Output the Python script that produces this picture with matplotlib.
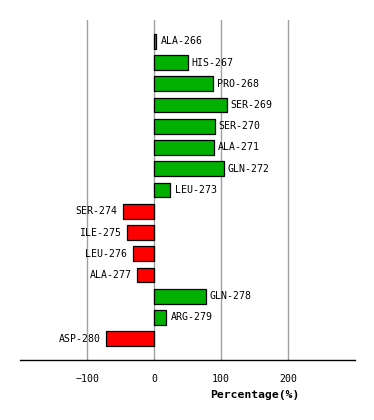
import matplotlib
matplotlib.use('Agg')
from matplotlib import pyplot as plt
import matplotlib.transforms as mtransforms

# residues and their percentage values
residues = ['ALA-266', 'HIS-267', 'PRO-268', 'SER-269', 'SER-270', 'ALA-271',
            'GLN-272', 'LEU-273', 'SER-274', 'ILE-275', 'LEU-276', 'ALA-277',
            'GLN-278', 'ARG-279', 'ASP-280']
values = [3.5, 50, 87.5, 108.5, 90.5, 89, 104, 24.5, -46.5, -40.5, -31.5,
          -25.5, 77, 18.5, -72]
xticks = [-100, 0, 100, 200]

plt.rcParams['font.family'] = 'DejaVu Sans Mono'
plt.rcParams['font.size'] = 7.1

fig = plt.figure(figsize=(3.74, 4.2), dpi=100)
ax = fig.add_axes([20.3 / 374, 60 / 420, 334.4 / 374, 340 / 420])

pos = list(range(len(residues)))
colors = ['#00B000' if v >= 0 else '#FF0000' for v in values]
ax.barh(pos, values, height=0.7, color=colors, edgecolor='black',
        linewidth=0.9, zorder=3)

for y, v, name in zip(pos, values, residues):
    if v >= 0:
        ax.annotate(name, (v, y), xytext=(3, 0), textcoords='offset points',
                    ha='left', va='center')
    else:
        ax.annotate(name, (v, y), xytext=(-4, 0), textcoords='offset points',
                    ha='right', va='center')

ax.set_xlim(-200, 300)
ax.set_ylim(15.0, -1.0)
ax.set_xticks(xticks)
ax.set_yticks([])
ax.grid(axis='x', color='#A0A0A0', linewidth=1, zorder=0)
ax.tick_params(axis='x', length=0, pad=10)
for s in ['top', 'left', 'right']:
    ax.spines[s].set_visible(False)
ax.spines['bottom'].set_linewidth(1)

trans = mtransforms.blended_transform_factory(ax.transData, ax.transAxes)
ax.text(150, -0.103, 'Percentage(%)', transform=trans, ha='center',
        va='center', fontweight='bold', fontsize=8.2)

fig.savefig('out.png', dpi=100)
